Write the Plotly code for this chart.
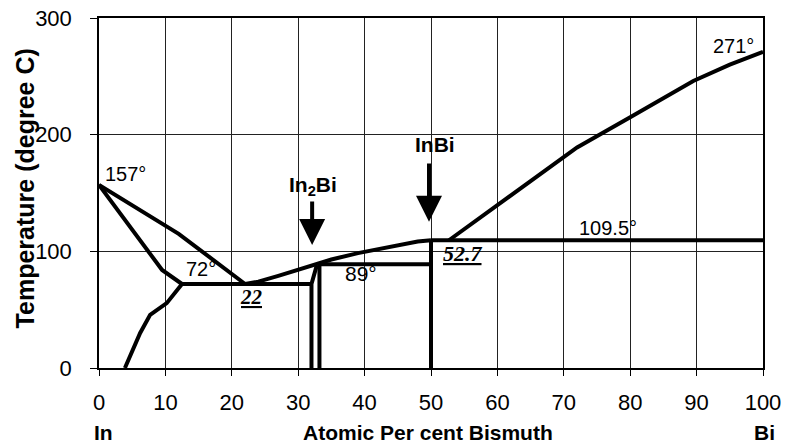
import plotly.graph_objects as go

# Indium-bismuth phase diagram (temperature in degree C vs atomic % Bi)

# Liquidus from pure In down to the 72 degree eutectic
liq_in_x = [0, 12, 22]
liq_in_y = [157, 115, 72]

# Solidus of the In-rich solid solution
sol_in_x = [0, 9.5, 12.5]
sol_in_y = [157, 84, 72]

# Solvus of the In-rich solid solution
solvus_x = [12.5, 10.2, 7.7, 6.2, 3.9]
solvus_y = [72, 55.6, 45.6, 30, 0]

# Eutectic isotherm
eut_x = [12.5, 32.0]
eut_y = [72, 72]

# In2Bi phase boundaries
in2bi_left_x = [32.0, 32.0, 32.8]
in2bi_left_y = [0, 72, 88]
in2bi_right_x = [33.2, 33.2]
in2bi_right_y = [0, 89]

# 89 degree isotherm between In2Bi and InBi
iso89_x = [33.2, 50]
iso89_y = [89, 89]

# InBi line compound
inbi_x = [50, 50]
inbi_y = [0, 109.5]

# 109.5 degree isotherm towards Bi
iso109_x = [50, 100]
iso109_y = [109.5, 109.5]

# Liquidus from the eutectic up to InBi
liq_mid_x = [22, 24, 27, 30, 33, 35, 39, 42, 45, 48, 50]
liq_mid_y = [72, 74, 79, 84, 89, 93, 98.5, 102, 105.5, 108.5, 109.5]

# Liquidus from 52.7 % Bi up to pure Bi
liq_bi_x = [52.7, 57.4, 60, 65, 69.7, 72, 80, 85, 89.5, 95, 100]
liq_bi_y = [109.5, 129, 140, 160, 180, 189, 215, 231, 246, 260, 271]

x_ticks = list(range(0, 101, 10))
y_ticks = [0, 100, 200, 300]

FONT = "Liberation Sans, Arial, Helvetica, sans-serif"
SERIF = "Liberation Serif, Times New Roman, serif"

fig = go.Figure()

segments = [
    (liq_in_x, liq_in_y), (sol_in_x, sol_in_y), (solvus_x, solvus_y),
    (eut_x, eut_y), (in2bi_left_x, in2bi_left_y), (in2bi_right_x, in2bi_right_y),
    (iso89_x, iso89_y), (inbi_x, inbi_y), (iso109_x, iso109_y),
    (liq_mid_x, liq_mid_y), (liq_bi_x, liq_bi_y),
]
for xs, ys in segments:
    fig.add_trace(go.Scatter(
        x=xs, y=ys, mode="lines",
        line=dict(color="black", width=4),
        showlegend=False, hoverinfo="skip",
    ))

annotations = []

# Value labels on the diagram
def label(text, x, y, size=20, family=FONT):
    annotations.append(dict(
        x=x, y=y, xref="x", yref="y", text=text, showarrow=False,
        font=dict(family=family, size=size, color="black"),
        xanchor="center", yanchor="middle",
    ))

label("157°", 4.0, 166.7)
label("72°", 15.3, 84.9)
label("<b><i><u>22</u></i></b>", 22.9, 60.5, size=21, family=SERIF)
label("89°", 39.4, 81.2, size=21)
label("<b><i><u>52.7</u></i></b>", 54.8, 98.4, size=22, family=SERIF)
label("109.5°", 76.6, 120.3)
label("271°", 95.6, 276.3)

# Compound markers with downward arrows
for name, x, x_lab, y_lab, y_tail, y_tip in [
    ("In<sub>2</sub>Bi", 32.1, 32.2, 155.8, 144, 105.5),
    ("InBi", 49.7, 50.6, 192, 176.6, 125.3),
]:
    annotations.append(dict(
        x=x, y=y_tip, ax=x, ay=y_tail, xref="x", yref="y",
        axref="x", ayref="y", text="", showarrow=True,
        arrowhead=2, arrowsize=1.3, arrowwidth=4, arrowcolor="black",
    ))
    annotations.append(dict(
        x=x_lab, y=y_lab, xref="x", yref="y",
        text="<b>" + name + "</b>", showarrow=False,
        font=dict(family=FONT, size=21, color="black"),
        xanchor="center", yanchor="middle",
    ))

# Axis captions (paper coordinates: plot spans x 0..1, y 0..1)
def caption(text, px, py, size=21, angle=0):
    annotations.append(dict(
        x=px, y=py, xref="paper", yref="paper", text=text, textangle=angle,
        showarrow=False, font=dict(family=FONT, size=size, color="black"),
        xanchor="center", yanchor="middle",
    ))

caption("<b>Atomic Per cent Bismuth</b>", 0.496, -0.183)
caption("<b>In</b>", 0.007, -0.183)
caption("<b>Bi</b>", 1.003, -0.183)
caption("<b>Temperature (degree C)</b>", -0.111, 0.514, size=25, angle=-90)

fig.update_layout(
    width=787, height=447,
    margin=dict(l=99, r=24, t=18, b=79, autoexpand=False),
    paper_bgcolor="white", plot_bgcolor="white",
    annotations=annotations,
    xaxis=dict(
        range=[0, 100], tickvals=x_ticks, ticktext=[str(v) for v in x_ticks],
        showgrid=True, gridcolor="#222", gridwidth=1,
        showline=True, linecolor="black", linewidth=1.5, mirror=True,
        ticks="outside", ticklen=6, tickcolor="black", tickwidth=1,
        tickfont=dict(family=FONT, size=22, color="black"),
        ticklabelstandoff=8, automargin=False,
        zeroline=False, fixedrange=True,
    ),
    yaxis=dict(
        range=[0, 300], tickvals=y_ticks, ticktext=[str(v) for v in y_ticks],
        showgrid=True, gridcolor="#222", gridwidth=1,
        showline=True, linecolor="black", linewidth=1.5, mirror=True,
        ticks="outside", ticklen=7, tickcolor="black", tickwidth=1,
        tickfont=dict(family=FONT, size=22, color="black"),
        ticklabelstandoff=14, automargin=False,
        zeroline=False, fixedrange=True,
    ),
)

fig.write_html("out.html")
